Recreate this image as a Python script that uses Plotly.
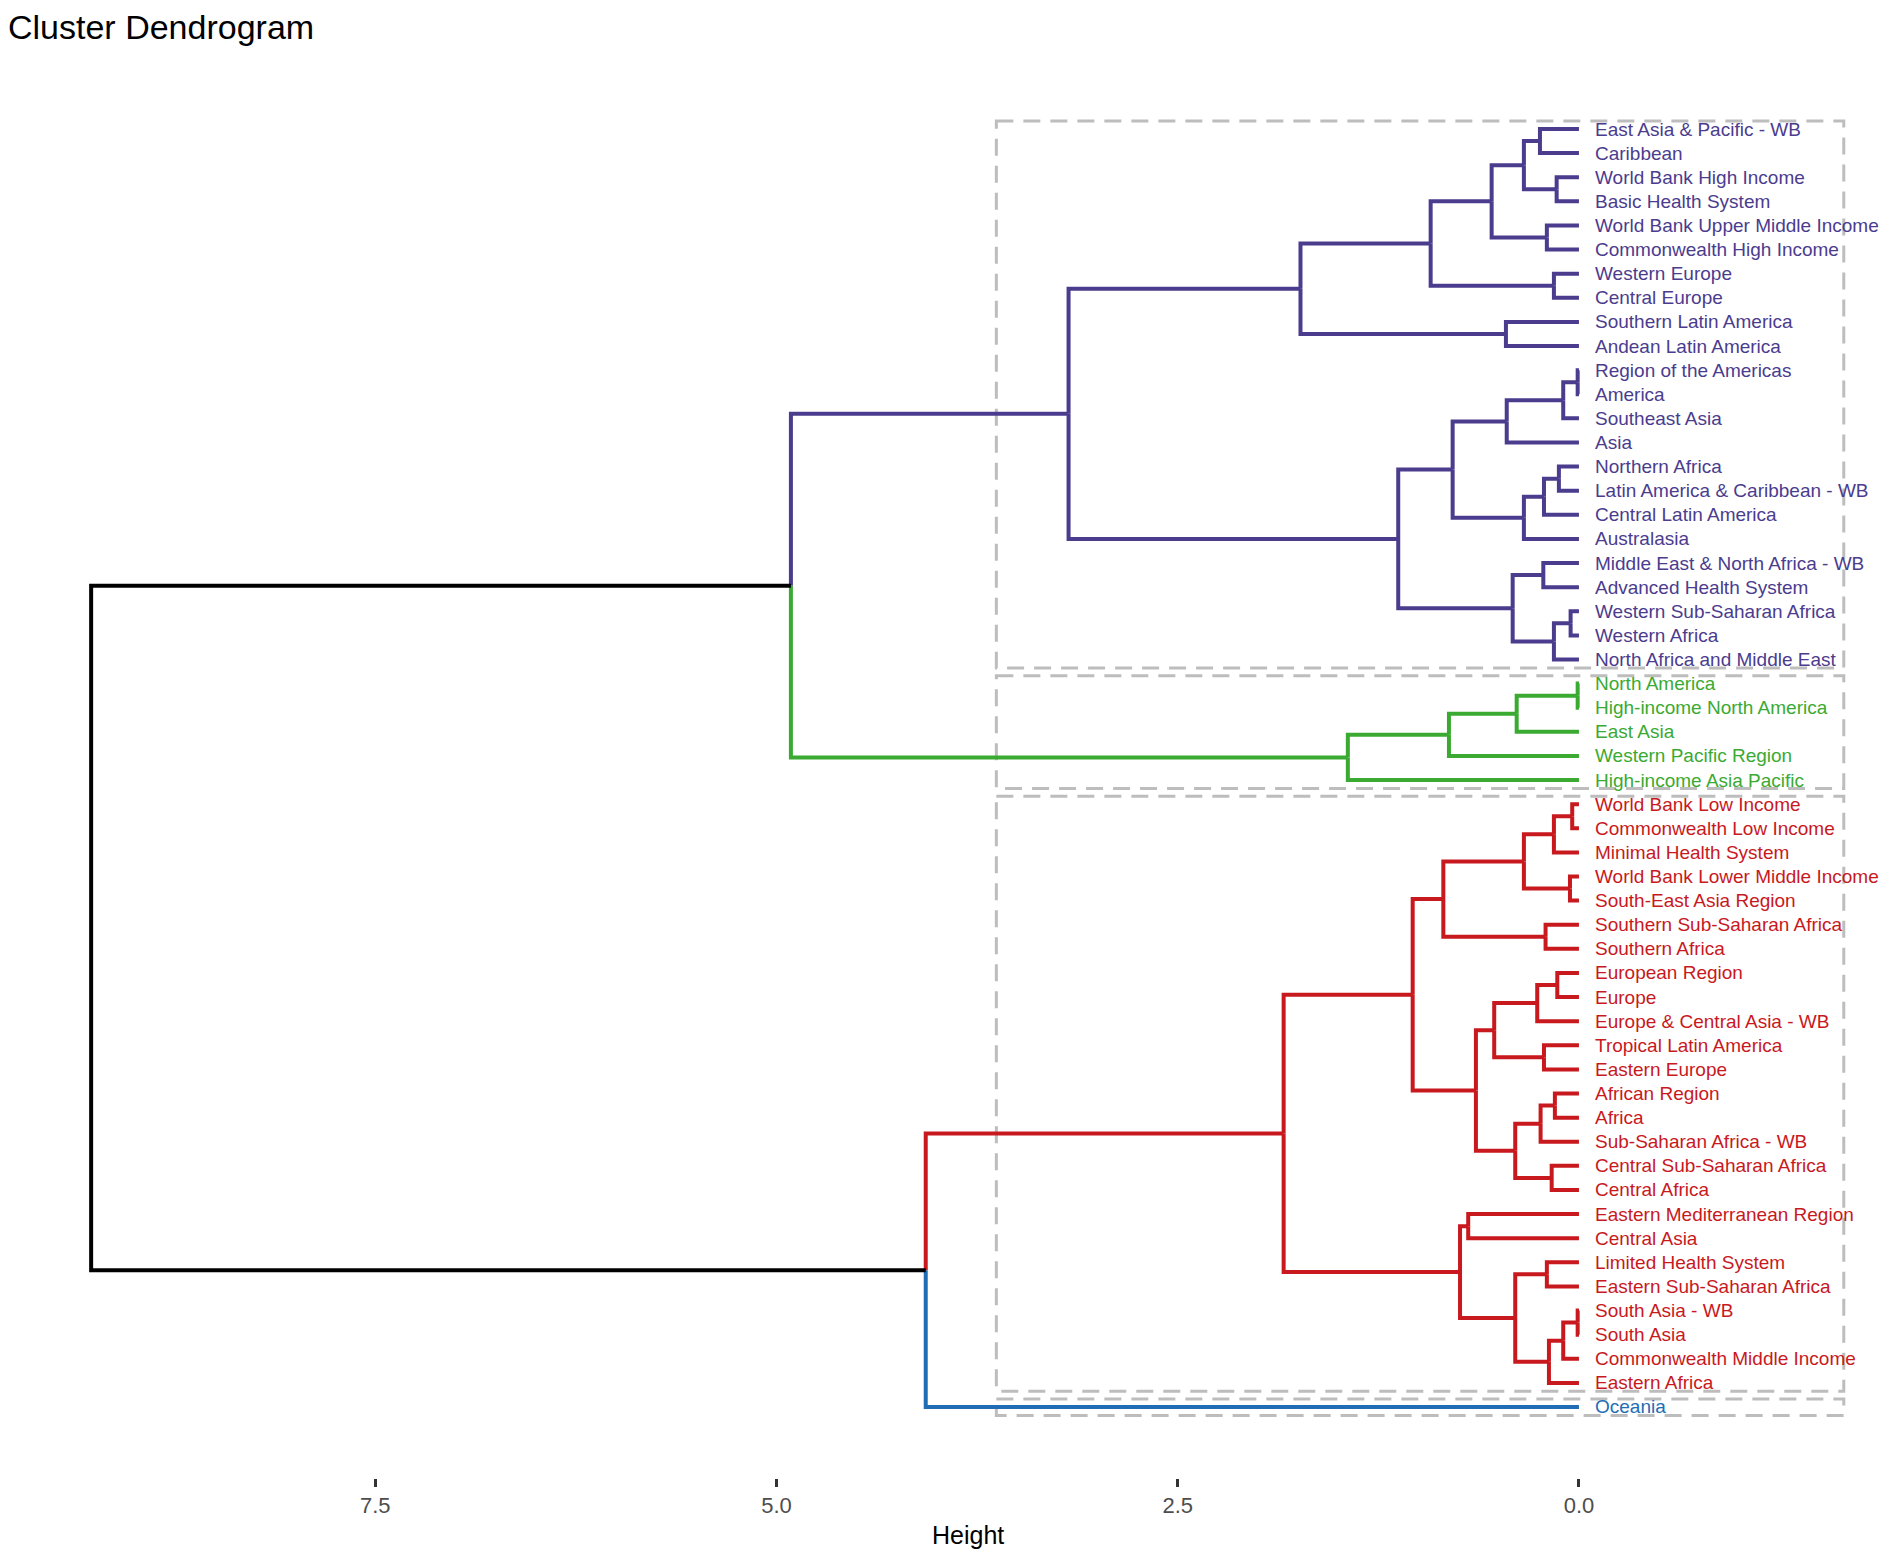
import plotly.graph_objects as go

# ---------------- data ----------------
leaves = [
    "East Asia & Pacific - WB", "Caribbean", "World Bank High Income", "Basic Health System",
    "World Bank Upper Middle Income", "Commonwealth High Income", "Western Europe", "Central Europe",
    "Southern Latin America", "Andean Latin America", "Region of the Americas", "America",
    "Southeast Asia", "Asia", "Northern Africa", "Latin America & Caribbean - WB",
    "Central Latin America", "Australasia", "Middle East & North Africa - WB", "Advanced Health System",
    "Western Sub-Saharan Africa", "Western Africa", "North Africa and Middle East",
    "North America", "High-income North America", "East Asia", "Western Pacific Region",
    "High-income Asia Pacific",
    "World Bank Low Income", "Commonwealth Low Income", "Minimal Health System",
    "World Bank Lower Middle Income", "South-East Asia Region", "Southern Sub-Saharan Africa",
    "Southern Africa", "European Region", "Europe", "Europe & Central Asia - WB",
    "Tropical Latin America", "Eastern Europe", "African Region", "Africa",
    "Sub-Saharan Africa - WB", "Central Sub-Saharan Africa", "Central Africa",
    "Eastern Mediterranean Region", "Central Asia", "Limited Health System",
    "Eastern Sub-Saharan Africa", "South Asia - WB", "South Asia", "Commonwealth Middle Income",
    "Eastern Africa",
    "Oceania",
]
leaf_cluster = [1] * 23 + [2] * 5 + [3] * 25 + [4]

# merges: items are leaf names (str) or 1-based index of an earlier merge (int)
merge_a = [
    "East Asia & Pacific - WB", "World Bank High Income", 1, "World Bank Upper Middle Income", 3,
    "Western Europe", 5, "Southern Latin America", 7, "Region of the Americas", 10, 11,
    "Northern Africa", 13, 14, 12, "Middle East & North Africa - WB", "Western Sub-Saharan Africa",
    18, 17, 16, 9,
    "North America", 23, 24, 25, 22,
    "World Bank Low Income", 28, "World Bank Lower Middle Income", 29, "Southern Sub-Saharan Africa",
    31, "European Region", 34, "Tropical Latin America", 35, "African Region", 38,
    "Central Sub-Saharan Africa", 39, 37, 33, "Eastern Mediterranean Region", "Limited Health System",
    "South Asia - WB", 46, 47, 45, 44, 43, 51, 27,
]
merge_b = [
    "Caribbean", "Basic Health System", 2, "Commonwealth High Income", 4,
    "Central Europe", 6, "Andean Latin America", 8, "America", "Southeast Asia", "Asia",
    "Latin America & Caribbean - WB", "Central Latin America", "Australasia", 15,
    "Advanced Health System", "Western Africa", "North Africa and Middle East", 19, 20, 21,
    "High-income North America", "East Asia", "Western Pacific Region", "High-income Asia Pacific", 26,
    "Commonwealth Low Income", "Minimal Health System", "South-East Asia Region", 30, "Southern Africa",
    32, "Europe", "Europe & Central Asia - WB", "Eastern Europe", 36, "Africa", "Sub-Saharan Africa - WB",
    "Central Africa", 40, 41, 42, "Central Asia", "Eastern Sub-Saharan Africa",
    "South Asia", "Commonwealth Middle Income", "Eastern Africa", 48, 49, 50, "Oceania", 52,
]
merge_height = [
    0.243, 0.139, 0.343, 0.200, 0.544, 0.156, 0.924, 0.455, 1.735, 0.008, 0.098, 0.450,
    0.125, 0.218, 0.343, 0.787, 0.222, 0.052, 0.156, 0.413, 1.126, 3.180,
    0.008, 0.388, 0.810, 1.440, 4.910,
    0.042, 0.156, 0.056, 0.343, 0.208, 0.845, 0.135, 0.260, 0.218, 0.528, 0.150, 0.239,
    0.170, 0.397, 0.642, 1.036, 0.690, 0.200, 0.008, 0.098, 0.187, 0.397, 0.741, 1.840,
    4.070, 9.270,
]

tick_vals = [0.0, 2.5, 5.0, 7.5]
tick_text = ["0.0", "2.5", "5.0", "7.5"]

cluster_colors = {1: "#4B3C8E", 2: "#3BAA32", 3: "#C8191E", 4: "#1F6DB4", 0: "#000000"}

# ---------------- build dendrogram geometry ----------------
leaf_pos = {name: i for i, name in enumerate(leaves)}
leaf_cl = {name: c for name, c in zip(leaves, leaf_cluster)}

node_y, node_h, node_cl = {}, {}, {}


def info(item):
    if isinstance(item, str):
        return leaf_pos[item], 0.0, leaf_cl[item]
    return node_y[item], node_h[item], node_cl[item]


segs = {k: ([], []) for k in cluster_colors}
for idx, (a, b, h) in enumerate(zip(merge_a, merge_b, merge_height), start=1):
    ya, ha, ca = info(a)
    yb, hb, cb = info(b)
    y = (ya + yb) / 2.0
    node_y[idx], node_h[idx] = y, h
    node_cl[idx] = ca if ca == cb else 0
    for cy, ch, cc in ((ya, ha, ca), (yb, hb, cb)):
        xs, ys = segs[cc]
        xs += [h, h, ch, None]
        ys += [y, cy, cy, None]

fig = go.Figure()
for c, (xs, ys) in segs.items():
    if not xs:
        continue
    fig.add_trace(go.Scatter(
        x=xs, y=ys, mode="lines", hoverinfo="skip", showlegend=False,
        line=dict(color=cluster_colors[c], width=4),
    ))

FONT = "Liberation Sans, Arial, sans-serif"

# leaf labels
for name in leaves:
    fig.add_annotation(
        x=-0.085, y=leaf_pos[name], text=name, showarrow=False, xanchor="left", yanchor="middle",
        xref="x", yref="y",
        font=dict(family=FONT, size=19, color=cluster_colors[leaf_cl[name]]),
    )

# dashed cluster rectangles
for c in sorted(set(leaf_cluster)):
    idxs = [i for i, cc in enumerate(leaf_cluster) if cc == c]
    fig.add_shape(
        type="rect", xref="x", yref="y",
        x0=3.63, x1=-1.65, y0=min(idxs) - 0.33, y1=max(idxs) + 0.35,
        line=dict(color="#BDBDBD", width=3, dash="17px,10px"), fillcolor="rgba(0,0,0,0)",
        layer="below",
    )

# axis title
fig.add_annotation(
    x=0.51, y=-0.040, xref="paper", yref="paper", text="Height", showarrow=False,
    xanchor="center", yanchor="middle",
    font=dict(family=FONT, size=25, color="black"),
)

fig.update_layout(
    width=1882, height=1548,
    margin=dict(l=0, r=0, t=52, b=78),
    paper_bgcolor="white", plot_bgcolor="white",
    title=dict(text="Cluster Dendrogram", x=0.0, xanchor="left", y=1 - 19 / 1548, yanchor="middle",
               font=dict(family=FONT, size=34, color="black")),
    xaxis=dict(
        range=[9.788, -1.938], tickvals=tick_vals, ticktext=tick_text,
        ticks="outside", ticklen=8, tickwidth=2.5, tickcolor="#333333",
        showgrid=False, zeroline=False, showline=False,
        tickfont=dict(family=FONT, size=22, color="#4D4D4D"),
    ),
    yaxis=dict(range=[55.945, -2.862], visible=False, showgrid=False, zeroline=False),
)

fig.write_html("out.html")
